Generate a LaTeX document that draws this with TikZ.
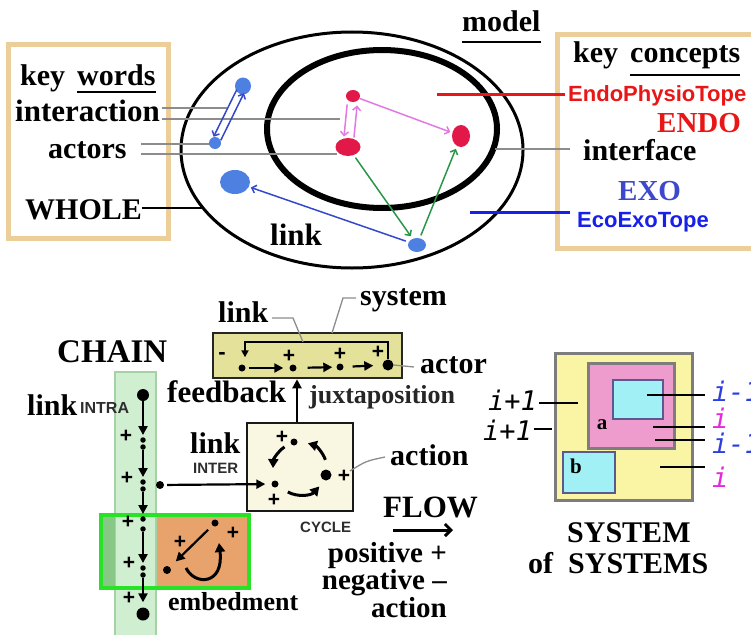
\documentclass[tikz,border=0pt]{standalone}
\usepackage{fontspec}
\setmainfont{Liberation Serif}
\newfontfamily\sansf{Liberation Sans}
\newfontfamily\monof{DejaVu Sans Mono}
\usetikzlibrary{arrows.meta,calc,shapes.geometric}
\newcommand{\fsz}[1]{\fontsize{#1}{#1}\selectfont}

\definecolor{frametan}{RGB}{236,206,152}
\definecolor{dotblue}{RGB}{78,128,226}
\definecolor{dotred}{RGB}{226,24,72}
\definecolor{arrblue}{RGB}{52,72,205}
\definecolor{arrpink}{RGB}{226,120,226}
\definecolor{arrgreen}{RGB}{42,150,72}
\definecolor{endored}{RGB}{232,22,22}
\definecolor{exoblue}{RGB}{62,72,205}
\definecolor{ecoblue}{RGB}{22,32,232}
\definecolor{leadgray}{RGB}{140,140,140}
\definecolor{sysfill}{RGB}{228,225,155}
\definecolor{cyclefill}{RGB}{249,246,226}
\definecolor{chainfill}{RGB}{208,238,208}
\definecolor{chainedge}{RGB}{165,210,165}
\definecolor{bandgreen}{RGB}{135,200,135}
\definecolor{embedfill}{RGB}{232,162,108}
\definecolor{embededge}{RGB}{40,226,40}
\definecolor{sosyellow}{RGB}{250,245,165}
\definecolor{sospink}{RGB}{238,155,205}
\definecolor{soscyan}{RGB}{160,240,246}
\definecolor{sosgray}{RGB}{125,125,125}
\definecolor{sosnavy}{RGB}{90,90,145}
\definecolor{lvlblue}{RGB}{45,62,222}
\definecolor{lvlmag}{RGB}{228,40,220}
\definecolor{smallgray}{RGB}{45,45,45}

\begin{document}
\begin{tikzpicture}[x=1pt,y=-1pt,
  txt/.style={font=\fsz{30}\bfseries, inner sep=0pt, anchor=base west},
  sanstxt/.style={font=\sansf\bfseries\fsz{22}, inner sep=0pt, anchor=base west},
  tiny/.style={font=\sansf\bfseries\fsz{15}, text=smallgray, inner sep=0pt, anchor=base west},
  lvl/.style={font=\monof\itshape\fsz{27}, inner sep=0pt, anchor=base west},
  blob/.style={ellipse, fill, inner sep=0pt},
  bdot/.style={circle, fill, inner sep=0pt, minimum size=#1},
  bdot/.default=5pt,
  plus/.style={font=\sansf\bfseries\fsz{21}, inner sep=0pt},
  carrow/.style={line width=1.5pt, -{Straight Barb[length=4pt,width=8pt]}},
  karrow/.style={line width=2.2pt, -{Triangle[length=9pt,width=9pt]}},
  cyarrow/.style={line width=3pt, -{Triangle[length=9pt,width=10pt]}},
  lead/.style={leadgray, line width=1.3pt},
  keyframe/.style={draw=frametan, line width=5pt},
  ulin/.style={line width=2.5pt},
  sosline/.style={line width=2.5pt},
]
\useasboundingbox (0,0) rectangle (751,634);

% ---------------- the model: two nested ellipses ----------------
\draw[keyframe] (8,45) rectangle (168,238);
\draw[keyframe] (557,35) rectangle (775,248);

\draw[line width=3pt] (352,150) ellipse [x radius=171, y radius=118];
\draw[line width=6pt] (382,129) ellipse [x radius=115, y radius=79];

\node[txt] (model) at (462,32) {model};
\draw[ulin] ([yshift=-10pt]model.base west) -- ([yshift=-10pt]model.base east);

% key words
\node[txt] (kw1) at (20,85) {key};
\node[txt] (kw2) at (77,85) {words};
\draw[ulin] ([yshift=-7pt]kw2.base west) -- ([yshift=-7pt]kw2.base east);
\node[txt, font=\fsz{31}\bfseries] (inter) at (15,121) {interaction};
\node[txt] (act) at (48,158) {actors};
\node[txt] (whole) at (25,219) {WHOLE};

\coordinate (iu) at (227,108);
\coordinate (il) at (340,119);
\coordinate (au) at (211,144);
\coordinate (al) at (337,154);
\coordinate (wo) at (203,208);
\draw[lead] ([xshift=2pt]inter.east |- iu) -- (iu);
\draw[lead] ([xshift=2pt]inter.east |- il) -- (il);
\draw[lead] ([xshift=14pt]act.east |- au) -- (au);
\draw[lead] ([xshift=14pt]act.east |- al) -- (al);
\draw[line width=2.5pt] (whole.east |- wo) -- (wo);

% actors inside the model
\node[blob, dotblue, minimum width=16pt, minimum height=17pt] (bt) at (243,86) {};
\node[blob, dotblue, minimum width=12pt, minimum height=12pt] (bl) at (215,143) {};
\node[blob, dotblue, minimum width=30pt, minimum height=24pt] (bB) at (235,182) {};
\node[blob, dotblue, minimum width=18pt, minimum height=14pt] (bb) at (417,245) {};
\node[blob, dotred, minimum width=14pt, minimum height=12pt] (rt) at (353,96) {};
\node[blob, dotred, minimum width=25pt, minimum height=18pt] (rb) at (348,147) {};
\node[blob, dotred, minimum width=18pt, minimum height=22pt] (rr) at (461,136) {};

% interactions
\draw[carrow, arrblue, shorten <=6pt, shorten >=5pt] ($(bt)!4pt!-90:(bl)$) -- ($(bl)!4pt!90:(bt)$);
\draw[carrow, arrblue, shorten <=5pt, shorten >=6pt] ($(bl)!4pt!-90:(bt)$) -- ($(bt)!4pt!90:(bl)$);
\draw[carrow, arrpink, shorten <=9pt, shorten >=10pt] ($(rt)!5pt!-90:(rb)$) -- ($(rb)!5pt!90:(rt)$);
\draw[carrow, arrpink, shorten <=10pt, shorten >=9pt] ($(rb)!5pt!-90:(rt)$) -- ($(rt)!5pt!90:(rb)$);
\draw[carrow, arrpink, shorten >=2pt] (rt) -- (rr);
\draw[carrow, arrgreen, shorten <=3pt, shorten >=3pt] (rb) -- (bb);
\draw[carrow, arrgreen, shorten <=3pt, shorten >=3pt] (bb) -- (rr);
\draw[carrow, arrblue, shorten <=3pt, shorten >=2pt] (bb) -- (bB);

\node[txt, font=\fsz{31}\bfseries] (mlink) at (270,245) {link};

% key concepts
\node[txt] (kc1) at (573,63) {key};
\node[txt] (kc2) at (630,63) {concepts};
\draw[ulin] ([yshift=-12pt]kc2.base west) -- ([yshift=-12pt]kc2.base east);
\node[sanstxt, text=endored] (endop) at (568,101) {EndoPhysioTope};
\node[txt, font=\fsz{29}\bfseries, text=endored] (endo) at (657,132) {ENDO};
\node[txt] (iface) at (583,160) {interface};
\node[txt, font=\fsz{29}\bfseries, text=exoblue] (exo) at (618,200) {EXO};
\node[sanstxt, text=ecoblue] (ecoexo) at (577,227) {EcoExoTope};

\coordinate (endoin) at (437,94);
\coordinate (ifin) at (495,149);
\coordinate (ecoin) at (470,212);
\draw[endored, line width=3pt] (endoin) -- ([xshift=-3pt]endop.west |- endoin);
\draw[leadgray, line width=1.2pt] (ifin) -- ([xshift=-13pt]iface.west |- ifin);
\draw[ecoblue, line width=3pt] (ecoin) -- ([xshift=-7pt]ecoexo.west |- ecoin);

% ---------------- the chain ----------------
\fill[chainfill] (115,372) rectangle (156,640);
\draw[chainedge, line width=1.5pt] (115,640) -- (115,372) -- (156,372) -- (156,640);

% embedment
\fill[bandgreen] (103,517) rectangle (115,587);
\fill[embedfill] (157,517) rectangle (249,587);
\draw[embededge, line width=4pt] (101,515) rectangle (249,588);

\node[txt, font=\fsz{33}\bfseries] (chain) at (57,362) {CHAIN};
\node[txt] (lintra) at (27,415) {link};
\node[tiny, font=\sansf\bfseries\fsz{16}] (intra) at (80,413) {INTRA};

\node[bdot=12pt] (c0) at (143,395) {};
\node[bdot=5.5pt] (u1a) at (143,440) {};
\node[bdot=5.5pt] (u1b) at (143,447) {};
\node[bdot=5.5pt] (u2a) at (143,482) {};
\node[bdot=5.5pt] (u2b) at (143,489) {};
\node[bdot=5.5pt] (u3a) at (143,519) {};
\node[bdot=5.5pt] (u3b) at (143,529) {};
\node[bdot=5.5pt] (u4a) at (143,568) {};
\node[bdot=5.5pt] (u4b) at (143,575) {};
\node[bdot=13pt] (c5) at (143,614) {};
\draw[karrow, shorten >=2pt] (c0) -- (u1a);
\draw[karrow, shorten >=2pt] (u1b) -- (u2a);
\draw[karrow, shorten >=2pt] (u2b) -- (u3a);
\draw[karrow, shorten >=2pt] (u3b) -- (u4a);
\draw[karrow, shorten >=5pt] (u4b) -- (c5);
\node[plus] (p1) at (126,436) {+};
\node[plus] (p2) at (127,478) {+};
\node[plus] (p3) at (128,522) {+};
\node[plus] (p4) at (129,563) {+};
\node[plus] (p5) at (129,598) {+};

% embedded cycle
\node[bdot=7pt] (ea) at (215,523) {};
\node[bdot=8pt] (eb) at (167,570) {};
\node[plus] (ep1) at (233,533) {+};
\node[plus] (ep2) at (180,542) {+};
\draw[karrow, shorten <=6pt, shorten >=8pt] (ea) -- (eb);
\coordinate (eu) at (186,568);
\coordinate (ev) at (219,543);
\draw[cyarrow] (eu) .. controls (195,586) and (224,585) .. (ev);
\node[txt, font=\fsz{26}\bfseries] (embed) at (168,610) {embedment};

% ---------------- the system ----------------
\node[draw=black!85, fill=sysfill, line width=2.5pt, minimum width=189pt, minimum height=45pt, inner sep=0pt] (sys) at (307.5,355.5) {};
\node[font=\sansf\bfseries\fsz{22}, inner sep=0pt] (sminus) at (222,356) {-};
\node[bdot=7pt] (s1) at (242,368) {};
\node[bdot=7pt] (s2) at (293,368) {};
\node[bdot=7pt] (s3) at (340,367) {};
\node[bdot=11pt] (s4) at (388,365) {};
\node[plus] (sp2) at (289,356) {+};
\node[plus] (sp3) at (340,354) {+};
\node[plus] (sp4) at (378,352) {+};
\draw[karrow, shorten <=3pt, shorten >=6pt] (s1) -- (s2);
\draw[karrow, shorten <=11pt, shorten >=4pt] (s2) -- (s3);
\draw[karrow, shorten <=9pt, shorten >=9pt] (s3) -- (s4);
\coordinate (fb) at (245,342);
\draw[line width=2.2pt, -{Triangle[length=7pt,width=7pt]}] (s4.north) |- (fb) -- ([yshift=7pt]s1.north -| fb);

\node[txt] (slink) at (218,322) {link};
\node[txt] (system) at (360,305) {system};
\node[txt] (actor) at (420,373) {actor};
\coordinate (lk1) at (272,318);
\coordinate (lk2) at (293,318);
\coordinate (lk3) at (303,342);
\draw[lead] (lk1) -- (lk2) -- (lk3);
\coordinate (sy1) at (356,298);
\coordinate (sy2) at (343,298);
\coordinate (sy3) at (332,333);
\draw[lead] (sy1) -- (sy2) -- (sy3);
\coordinate (ac1) at (414,367);
\draw[lead] (s4.east) -- (ac1);

\node[txt, font=\fsz{31}\bfseries] (fback) at (167,402) {feedback};
\node[txt, font=\fsz{26}\bfseries, text=black!85] (juxt) at (309,403) {juxtaposition};

% ---------------- the cycle ----------------
\node[draw=black!90, fill=cyclefill, line width=2.5pt, minimum width=106pt, minimum height=88pt, inner sep=0pt] (cyc) at (300,467) {};
\draw[karrow] ([xshift=-3pt]cyc.north) -- ([xshift=-3pt]cyc.north |- sys.south);

\node[bdot=7pt] (ct) at (294,442) {};
\node[bdot=11pt] (cr) at (326,475) {};
\node[bdot=7pt] (cl) at (275,484) {};
\node[plus] (cp1) at (282,437) {+};
\node[plus] (cp2) at (344,476) {+};
\node[plus] (cp3) at (274,500) {+};
\coordinate (ca1) at (284.5,446.9);
\coordinate (ca2) at (325.4,459.8);
\coordinate (ca3) at (287.8,492);
\draw[cyarrow] (ca1) arc[start angle=235, end angle=182, radius=27];
\draw[cyarrow] (ca2) arc[start angle=340, end angle=287, radius=27];
\draw[cyarrow] (ca3) arc[start angle=118, end angle=42, radius=26];

\node[bdot=8pt] (li0) at (160,485) {};
\draw[karrow, shorten <=3pt, shorten >=6pt] (li0) -- (cl);
\node[txt] (ilink) at (190,453) {link};
\node[tiny] (inter2) at (193,473) {INTER};
\node[tiny] (cyclbl) at (300,532) {CYCLE};

\node[txt] (caction) at (390,465) {action};
\coordinate (cl1) at (350,471);
\coordinate (cl2) at (385,457);
\draw[lead] (cl1) .. controls (366,461) .. (cl2);

% flow and signs
\node[txt, font=\fsz{31}\bfseries] (flow) at (383,517) {FLOW};
\coordinate (fa1) at (393,530);
\coordinate (fa2) at (453,530);
\draw[line width=3pt, -{Straight Barb[length=6pt,width=12pt]}] (fa1) -- (fa2);
\node[txt, font=\fsz{29}\bfseries, anchor=base east] (pos) at (447,562) {positive +};
\node[txt, font=\fsz{29}\bfseries, anchor=base east] (neg) at (447,589) {negative –};
\node[txt, font=\fsz{29}\bfseries, anchor=base east] (fact) at (447,617) {action};

% ---------------- system of systems ----------------
\node[draw=sosgray, fill=sosyellow, line width=3pt, minimum width=137pt, minimum height=147pt, inner sep=0pt] (sosout) at (623.5,426.5) {};
\node[draw=sosgray, fill=sospink, line width=3pt, minimum width=86pt, minimum height=85pt, inner sep=0pt] (sospk) at (631,405.5) {};
\node[draw=sosnavy, fill=soscyan, line width=2.5pt, minimum width=50pt, minimum height=39pt, inner sep=0pt] (soscy) at (638,399.5) {};
\node[draw=sosnavy, fill=soscyan, line width=2.5pt, minimum width=52pt, minimum height=41pt, inner sep=0pt] (sosb) at (589,472.5) {};
\node[font=\fsz{21}\bfseries, inner sep=0pt] (la) at (602,425) {a};
\node[font=\fsz{21}\bfseries, inner sep=0pt] (lb) at (576,466) {b};

\node[lvl] (ip1) at (488,410) {i+1};
\node[lvl] (ip2) at (483,440) {i+1};
\node[lvl, text=lvlblue] (im1) at (712,401) {i-1};
\node[lvl, text=lvlmag] (ii1) at (712,428) {i};
\node[lvl, text=lvlblue] (im2) at (712,453) {i-1};
\node[lvl, text=lvlmag] (ii2) at (712,487) {i};

\coordinate (q1) at (578,403);
\coordinate (q2) at (552,429);
\coordinate (q3) at (647,395);
\coordinate (q4) at (653,427);
\coordinate (q5) at (655,440);
\coordinate (q6) at (660,467);
\draw[sosline] ([xshift=2pt]ip1.east |- q1) -- (q1);
\draw[sosline] ([xshift=2pt]ip2.east |- q2) -- (q2);
\draw[sosline] (q3) -- ([xshift=-7pt]im1.west |- q3);
\draw[sosline] (q4) -- ([xshift=-7pt]ii1.west |- q4);
\draw[sosline] (q5) -- ([xshift=-7pt]im2.west |- q5);
\draw[sosline] (q6) -- ([xshift=-7pt]ii2.west |- q6);

\node[txt] (sos1) at (567,542) {SYSTEM};
\node[txt] (sos2) at (528,573) {of\ \ SYSTEMS};
\end{tikzpicture}
\end{document}
